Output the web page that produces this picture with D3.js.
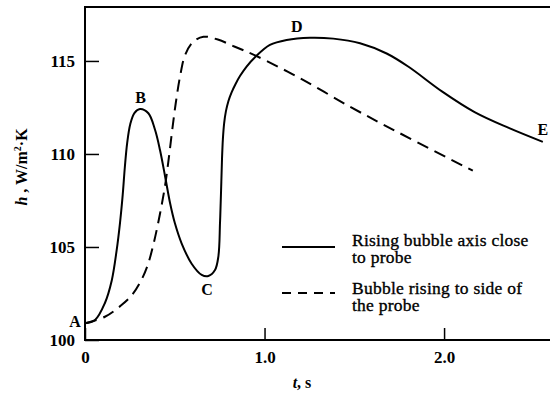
<!DOCTYPE html>
<html><head><meta charset="utf-8">
<script src="https://cdn.jsdelivr.net/npm/d3@7"></script>
<style>body{margin:0;background:#fff}svg{display:block}</style>
</head><body>
<svg id="c" width="550" height="393"></svg>
<script>
const xTicks = [0, 1.0, 2.0];
const xTickLabels = ["0", "1.0", "2.0"];
const yTicks = [100, 105, 110, 115];
const yTickLabels = ["100", "105", "110", "115"];
const seriesNames = ["Rising bubble axis close|to probe", "Bubble rising to side of|the probe"];
const solidT = [0, 0.056, 0.111, 0.149, 0.176, 0.195, 0.21, 0.222, 0.235, 0.252, 0.275, 0.306, 0.353, 0.39, 0.418, 0.446, 0.474, 0.50, 0.538, 0.594, 0.65, 0.687, 0.724, 0.743, 0.752, 0.758, 0.763, 0.768, 0.775, 0.785, 0.799, 0.816, 0.838, 0.864, 0.9, 0.947, 1.03, 1.123, 1.253, 1.383, 1.532, 1.68, 1.8, 1.99, 2.17, 2.36, 2.55];
const solidH = [100.9, 101.08, 101.99, 103.2, 104.8, 106.3, 107.8, 109.3, 110.6, 111.6, 112.2, 112.42, 112.19, 111.3, 110.2, 108.8, 107.35, 106.3, 105.2, 104.1, 103.5, 103.44, 103.76, 104.5, 106.3, 108.06, 109.7, 110.8, 111.65, 112.3, 112.85, 113.3, 113.75, 114.2, 114.7, 115.2, 115.86, 116.13, 116.25, 116.2, 115.95, 115.4, 114.7, 113.35, 112.25, 111.4, 110.65];
const dashT = [0, 0.111, 0.2, 0.26, 0.31, 0.35, 0.385, 0.418, 0.446, 0.467, 0.486, 0.505, 0.53, 0.557, 0.6, 0.66, 0.74, 0.826, 0.947, 1.198, 1.476, 1.717, 2.16];
const dashH = [100.9, 101.25, 101.85, 102.4, 103.15, 104.05, 105.3, 106.8, 108.3, 109.8, 111.3, 112.7, 114.2, 115.3, 116.0, 116.3, 116.15, 115.8, 115.3, 114.07, 112.54, 111.3, 109.1];
const pointLabels = ["A", "B", "C", "D", "E"];
const pointT = [-0.056, 0.31, 0.68, 1.18, 2.55];
const pointH = [101.0, 113.06, 102.7, 116.85, 111.3];

const svg = d3.select("#c");
const x = d3.scaleLinear().domain([0, 2.59]).range([85, 550]);
const y = d3.scaleLinear().domain([100, 117.9]).range([340, 7]);
const serif = "'Liberation Serif', 'DejaVu Serif', serif";

svg.append("line").attr("x1", 85).attr("x2", 550).attr("y1", y(117.9)).attr("y2", y(117.9)).attr("stroke", "#000").attr("stroke-width", 2);

const xAxis = svg.append("g").attr("transform", `translate(0,${y(100)})`)
  .call(d3.axisBottom(x).tickValues(xTicks).tickSizeInner(-12).tickSizeOuter(0).tickFormat((d,i)=>xTickLabels[i]));
xAxis.selectAll(".tick line").attr("stroke-width", 1.5);
xAxis.selectAll(".tick text").attr("y", 11).attr("dy", "0.71em").attr("font-family", serif).attr("font-weight", "bold").attr("font-size", 17).attr("fill", "#000");

const yAxis = svg.append("g").attr("transform", `translate(${x(0)},0)`)
  .call(d3.axisLeft(y).tickValues(yTicks).tickSizeInner(-14).tickSizeOuter(0).tickFormat((d,i)=>yTickLabels[i]));
yAxis.selectAll(".tick line").attr("stroke-width", 1.5);
yAxis.selectAll(".tick text").attr("x", -10).attr("font-family", serif).attr("font-weight", "bold").attr("font-size", 17).attr("fill", "#000");
svg.selectAll(".domain").remove();
svg.append("line").attr("x1", x(0)).attr("x2", x(0)).attr("y1", y(100) + 1).attr("y2", y(117.9) - 1).attr("stroke", "#000").attr("stroke-width", 2);
svg.append("line").attr("x1", x(0) - 1).attr("x2", 550).attr("y1", y(100)).attr("y2", y(100)).attr("stroke", "#000").attr("stroke-width", 2);

const line = d3.line().x(d => x(d[0])).y(d => y(d[1])).curve(d3.curveCatmullRom.alpha(0.5));
svg.append("path").datum(solidT.map((t,i)=>[t, solidH[i]])).attr("d", line)
  .attr("fill", "none").attr("stroke", "#000").attr("stroke-width", 2);
svg.append("path").datum(dashT.map((t,i)=>[t, dashH[i]])).attr("d", line)
  .attr("fill", "none").attr("stroke", "#000").attr("stroke-width", 2).attr("stroke-dasharray", "12,7");

pointLabels.forEach((l,i) => {
  svg.append("text").attr("x", x(pointT[i])).attr("y", y(pointH[i])).attr("text-anchor", "middle")
    .attr("dy", "0.35em").attr("font-family", serif).attr("font-weight", "bold").attr("font-size", 16).text(l);
});

const leg = [{y: 247, ty: 246, dash: null}, {y: 293, ty: 294, dash: "9,7"}];
leg.forEach((d,i) => {
  svg.append("line").attr("x1", 282).attr("x2", 335).attr("y1", d.y).attr("y2", d.y)
    .attr("stroke", "#000").attr("stroke-width", 2).attr("stroke-dasharray", d.dash);
  const parts = seriesNames[i].split("|");
  parts.forEach((p,j) => {
    svg.append("text").attr("x", 352).attr("y", d.ty + j*17).attr("font-family", serif)
      .attr("font-size", 17.5).attr("letter-spacing", 0.25).attr("stroke", "#000").attr("stroke-width", 0.35).text(p);
  });
});

svg.append("text").attr("transform", "translate(27,167) rotate(-90)").attr("text-anchor", "middle")
  .attr("font-family", serif).attr("font-weight", "bold").attr("font-size", 16)
  .html('<tspan font-style="italic">h</tspan> ,  W/m<tspan dy="-6" font-size="10">2</tspan><tspan dy="6">·K</tspan>');
svg.append("text").attr("x", 302).attr("y", 388).attr("text-anchor", "middle")
  .attr("font-family", serif).attr("font-weight", "bold").attr("font-size", 16)
  .html('<tspan font-style="italic">t</tspan>, s');
</script>
</body></html>
